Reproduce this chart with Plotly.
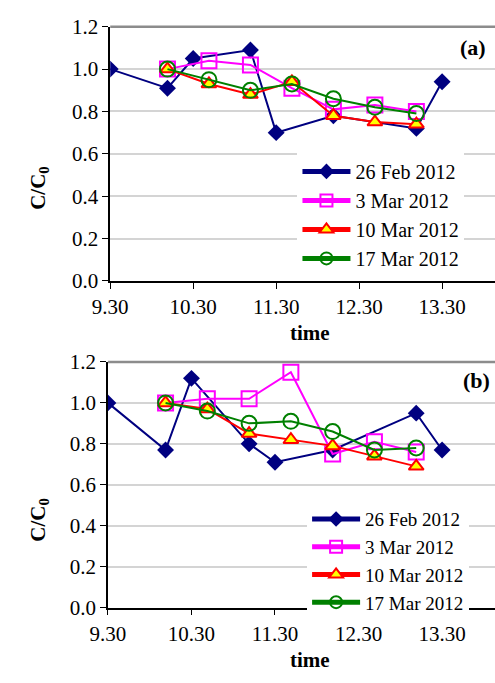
import plotly.graph_objects as go

# ---- data ----
tick_vals = [9.5, 10.5, 11.5, 12.5, 13.5]
tick_text = ["9.30", "10.30", "11.30", "12.30", "13.30"]
series_names = ["26 Feb 2012", "3 Mar 2012", "10 Mar 2012", "17 Mar 2012"]

x_feb = [9.5, 10.19, 10.5, 11.19, 11.5, 12.19, 13.19, 13.5]
x_mar = [10.19, 10.69, 11.19, 11.69, 12.19, 12.69, 13.19]

a_feb26 = [1.00, 0.91, 1.05, 1.09, 0.70, 0.78, 0.72, 0.94]
a_mar3 = [1.00, 1.04, 1.02, 0.91, 0.81, 0.83, 0.80]
a_mar10 = [1.00, 0.93, 0.88, 0.94, 0.78, 0.75, 0.74]
a_mar17 = [1.00, 0.95, 0.90, 0.93, 0.86, 0.82, 0.79]

b_feb26 = [1.00, 0.77, 1.12, 0.80, 0.71, 0.77, 0.95, 0.77]
b_mar3 = [1.00, 1.02, 1.02, 1.15, 0.75, 0.81, 0.76]
b_mar10 = [1.00, 0.97, 0.85, 0.82, 0.79, 0.74, 0.69]
b_mar17 = [1.00, 0.96, 0.90, 0.91, 0.86, 0.77, 0.78]

FONT = "Liberation Serif"
W, H = 495, 683

styles = [
    dict(line=dict(color="#000080", width=2),
         marker=dict(symbol="diamond", size=13, color="#000080")),
    dict(line=dict(color="#FF00FF", width=2),
         marker=dict(symbol="square-open", size=15, color="#FF00FF", line=dict(width=2))),
    dict(line=dict(color="#FF0000", width=2),
         marker=dict(symbol="triangle-up", size=13, color="#FFFF00",
                     line=dict(color="#FF0000", width=2))),
    dict(line=dict(color="#008000", width=2),
         marker=dict(symbol="circle-open", size=15, color="#008000", line=dict(width=2))),
]

fig = go.Figure()

panels = [
    ("x", "y", "legend", [a_feb26, a_mar3, a_mar10, a_mar17]),
    ("x2", "y2", "legend2", [b_feb26, b_mar3, b_mar10, b_mar17]),
]
for xa, ya, lg, ys in panels:
    for i, (name, yv) in enumerate(zip(series_names, ys)):
        xv = x_feb if i == 0 else x_mar
        fig.add_trace(go.Scatter(x=xv, y=yv, mode="lines+markers", name=name,
                                 xaxis=xa, yaxis=ya, legend=lg, **styles[i]))

# pixel geometry
top = dict(l=95.7, r=495, t=15.3, b=278.7, px_per_hr=86.1)
bot = dict(l=93.3, r=495, t=362.7, b=617.3, px_per_hr=86.7)

def xdom(p):
    return [p["l"] / W, 1.0]

def ydom(p):
    return [1 - p["b"] / H, 1 - p["t"] / H]

def xrng(p):
    return [9.5, 9.5 + (p["r"] - p["l"]) / p["px_per_hr"]]

axis_font = dict(family=FONT, size=21, color="black")
common_x = dict(tickvals=tick_vals, ticktext=tick_text, ticks="outside", ticklen=6,
                tickcolor="black", showline=True, linecolor="black", linewidth=1.5,
                showgrid=False, zeroline=False, tickfont=axis_font, fixedrange=True)
common_y = dict(range=[0, 1.2], dtick=0.2, tick0=0, tickformat=".1f", ticks="outside",
                ticklen=6, tickcolor="black", showline=True, linecolor="black",
                linewidth=1.5, showgrid=True, gridcolor="#D4D4D4", gridwidth=1.5,
                zeroline=False, tickfont=axis_font, fixedrange=True)

fig.update_layout(
    width=W, height=H,
    margin=dict(l=0, r=0, t=0, b=0),
    paper_bgcolor="white", plot_bgcolor="white",
    font=dict(family=FONT, size=20, color="black"),
    xaxis=dict(domain=xdom(top), range=xrng(top), anchor="y", **common_x),
    yaxis=dict(domain=ydom(top), anchor="x", **common_y),
    xaxis2=dict(domain=xdom(bot), range=xrng(bot), anchor="y2", **common_x),
    yaxis2=dict(domain=ydom(bot), anchor="x2", **common_y),
    legend=dict(x=290 / W, y=1 - 145 / H, xanchor="left", yanchor="top",
                bgcolor="white", borderwidth=0, itemsizing="constant",
                font=dict(family=FONT, size=20, color="black"), itemwidth=48),
    legend2=dict(x=300 / W, y=1 - 506 / H, xanchor="left", yanchor="top",
                 bgcolor="white", borderwidth=0, itemsizing="constant",
                 font=dict(family=FONT, size=19, color="black"), itemwidth=48),
    showlegend=True,
)

# top border of each plot area
for p in (top, bot):
    fig.add_shape(type="line", xref="paper", yref="paper",
                  x0=p["l"] / W, x1=1.0, y0=1 - p["t"] / H, y1=1 - p["t"] / H,
                  line=dict(color="#8C8C8C", width=2.5), layer="above")

ann = []
for lbl, (cx, cy) in zip(["(a)", "(b)"], [(488, 37), (492, 382)]):
    ann.append(dict(text="<b>%s</b>" % lbl, x=cx / W, y=1 - cy / H, xref="paper", yref="paper",
                    xanchor="right", yanchor="middle", showarrow=False,
                    font=dict(family=FONT, size=22, color="black")))
for cy in (182, 526):
    ann.append(dict(text="<b>C/C<sub>0</sub></b>", x=21 / W, y=1 - cy / H, xref="paper",
                    yref="paper", xanchor="center", yanchor="middle", textangle=-90,
                    showarrow=False, font=dict(family=FONT, size=21, color="black")))
for cy in (333, 672):
    ann.append(dict(text="<b>time</b>", x=303 / W, y=1 - cy / H, xref="paper", yref="paper",
                    xanchor="center", yanchor="middle", showarrow=False,
                    font=dict(family=FONT, size=21, color="black")))
fig.update_layout(annotations=ann)

fig.write_html("out.html")
